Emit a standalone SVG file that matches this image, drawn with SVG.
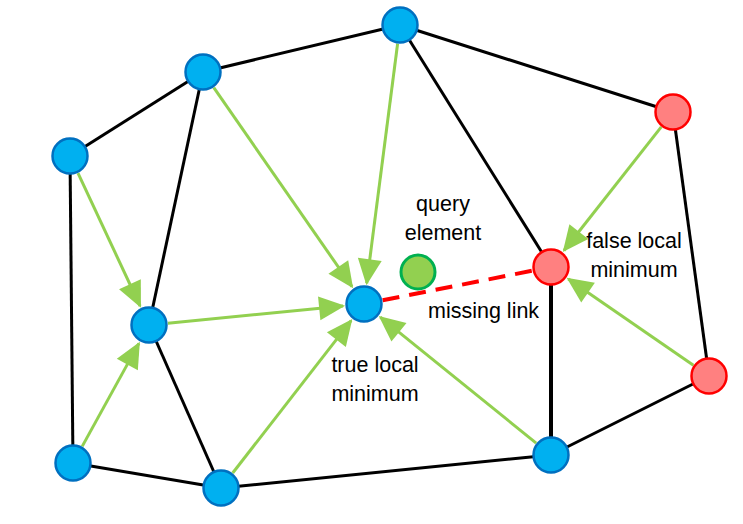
<svg xmlns="http://www.w3.org/2000/svg" width="743" height="524" viewBox="0 0 743 524">
<style>
.e{stroke:#000;stroke-width:3;fill:none}
.a{stroke:#92D050;stroke-width:3;fill:none;marker-end:url(#ah)}
.b{fill:#00B0F0;stroke:#0070C0;stroke-width:2.5}
.r{fill:#FF8080;stroke:#FF0000;stroke-width:2.5}
.q{fill:#92D050;stroke:#00B050;stroke-width:3}
text{font-family:"Liberation Sans",Arial,sans-serif;font-size:21.5px;fill:#000;text-anchor:middle}
</style>
<defs>
<marker id="ah" markerUnits="userSpaceOnUse" markerWidth="28" markerHeight="26" refX="24" refY="12" orient="auto" overflow="visible">
<path d="M0,0 L26,12 L0,24 z" fill="#92D050"/>
</marker>
</defs>
<g id="connectors">
<line class="e" x1="400" y1="25" x2="203" y2="72"/>
<line class="e" x1="203" y1="72" x2="70" y2="156"/>
<line class="e" x1="70" y1="156" x2="73" y2="463"/>
<line class="e" x1="73" y1="463" x2="221" y2="488"/>
<line class="e" x1="221" y1="488" x2="551" y2="455"/>
<line class="e" x1="551" y1="455" x2="709" y2="376"/>
<line class="e" x1="709" y1="376" x2="673" y2="112"/>
<line class="e" x1="673" y1="112" x2="400" y2="25"/>
<line class="e" x1="400" y1="25" x2="551" y2="267"/>
<line class="e" x1="203" y1="72" x2="149" y2="325"/>
<line class="e" x1="149" y1="325" x2="221" y2="488"/>
<line class="e" x1="551" y1="267" x2="551" y2="455" style="stroke-width:4"/>
<line x1="364" y1="304" x2="551" y2="267" stroke="#FF0000" stroke-width="4" stroke-dasharray="17 10" stroke-dashoffset="-19"/>
<line class="a" x1="397.6" y1="43.8" x2="366.7" y2="283.2"/>
<line class="a" x1="213.8" y1="87.6" x2="352.0" y2="286.7"/>
<line class="a" x1="167.9" y1="323.2" x2="343.1" y2="306.0"/>
<line class="a" x1="232.7" y1="473.0" x2="351.1" y2="320.6"/>
<line class="a" x1="536.2" y1="443.1" x2="380.3" y2="317.2"/>
<line class="a" x1="78.0" y1="173.2" x2="140.1" y2="306.0"/>
<line class="a" x1="82.2" y1="446.4" x2="138.9" y2="343.4"/>
<line class="a" x1="661.3" y1="126.9" x2="564.0" y2="250.5"/>
<line class="a" x1="693.4" y1="365.2" x2="568.3" y2="278.9"/>
</g>
<g id="nA"><circle class="b" cx="400" cy="25" r="17.5"/></g>
<g id="nB"><circle class="b" cx="203" cy="72" r="17.5"/></g>
<g id="nC"><circle class="b" cx="70" cy="156" r="17.5"/></g>
<g id="nD"><circle class="b" cx="149" cy="325" r="17.5"/></g>
<g id="nE"><circle class="b" cx="73" cy="463" r="17.5"/></g>
<g id="nF"><circle class="b" cx="221" cy="488" r="17.5"/></g>
<g id="nH"><circle class="b" cx="551" cy="455" r="17.5"/></g>
<g id="nG"><circle class="b" cx="364" cy="304" r="17.5"/><text x="375" y="372">true local</text><text x="375" y="401">minimum</text></g>
<g id="nI"><circle class="r" cx="551" cy="267" r="17.5"/><text x="634" y="248">false local</text><text x="634" y="277">minimum</text></g>
<g id="nJ"><circle class="r" cx="673" cy="112" r="17.5"/></g>
<g id="nK"><circle class="r" cx="709" cy="376" r="17.5"/></g>
<g id="nQ"><circle class="q" cx="418" cy="272" r="17"/><text x="443" y="211">query</text><text x="443" y="240">element</text></g>
<g id="lbl"><text x="428" y="318" style="text-anchor:start">missing link</text></g>
</svg>
